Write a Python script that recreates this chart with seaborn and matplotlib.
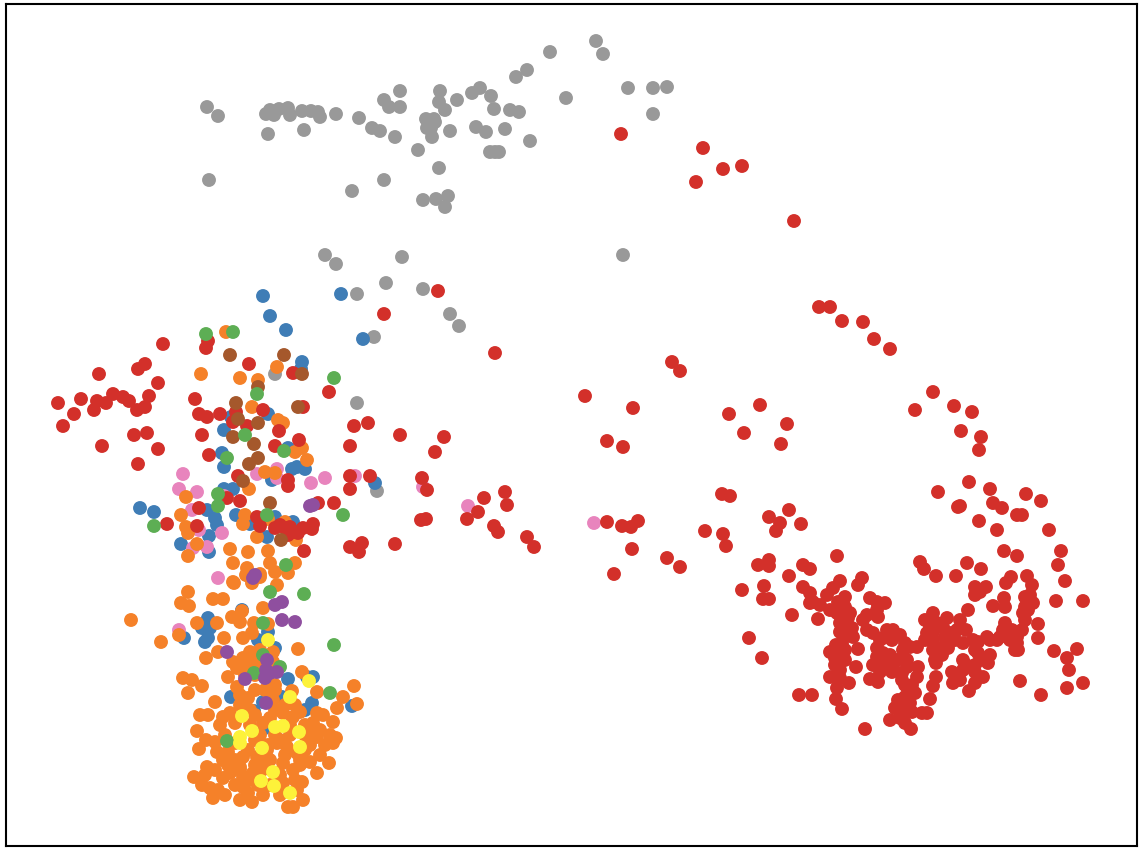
import pandas as pd
import matplotlib
matplotlib.use('Agg')
import matplotlib.pyplot as plt
import seaborn as sns

# puntos (x, y) por grupo
grey = [(207,107),(218,116),(209,180),(266,114),(270,110),(274,115),(279,109),(288,108),(290,115),(302,111),(304,130),(311,111),(318,112),(320,117),(336,114),(268,134),(359,118),(372,128),(380,131),(384,100),(389,107),(400,91),(400,107),(395,137),(418,150),(426,119),(434,119),(427,128),(431,128),(435,122),(440,91),(439,102),(445,110),(457,100),(472,93),(480,88),(491,96),(476,127),(486,132),(450,131),(432,137),(494,109),(510,110),(519,112),(505,129),(530,141),(490,152),(495,152),(499,152),(516,77),(527,70),(550,52),(566,98),(596,41),(603,54),(628,88),(653,88),(667,87),(653,114),(439,168),(384,180),(352,191),(423,200),(436,199),(448,196),(445,207),(623,255),(325,255),(336,264),(402,257),(386,283),(423,289),(450,314),(459,326),(357,294),(374,337),(275,374),(357,403),(377,491)]

blue = [(263,296),(270,316),(286,330),(341,294),(363,339),(302,362),(301,369),(268,414),(231,417),(224,430),(288,448),(222,453),(224,467),(292,469),(297,467),(305,469),(272,480),(233,489),(224,489),(207,510),(140,508),(154,512),(236,515),(215,518),(217,525),(250,524),(275,517),(293,522),(267,537),(209,536),(181,544),(209,552),(375,483),
        (208,618),(202,628),(210,628),(208,638),(205,642),(184,638),(242,610),(268,632),(258,640),(275,648),(288,679),(313,677),(307,677),(231,697),(263,702),(254,711),(282,697),(312,703),(305,710),(352,706),(265,728)]

pink = [(183,474),(179,489),(197,492),(224,496),(192,510),(199,530),(222,533),(207,547),(193,548),(257,474),(277,469),(277,478),(311,483),(325,478),(355,476),(423,487),(468,506),(594,523),(218,578),(179,630)]

orange = [(226,332),(201,374),(277,367),(240,378),(258,380),(252,407),(278,420),(283,423),(302,448),(295,452),(307,460),(265,472),(275,473),(249,489),(186,497),(181,515),(186,527),(188,533),(197,544),(188,556),(245,515),(243,524),(268,519),(285,522),(257,537),(296,540),(230,549),(248,552),(268,551),(270,563),(233,563),(247,568),(295,563),(275,572),(288,573),(260,574),(246,575),(233,582),
          (131,620),(161,642),(179,635),(188,592),(181,603),(189,606),(213,599),(223,599),(234,583),(247,575),(260,577),(252,583),(277,585),(242,611),(232,617),(240,622),(197,623),(217,623),(263,608),(254,623),(268,624),(252,633),(243,638),(224,638),(218,652),(206,658),(298,649),
          (250,652),(260,650),(273,652),(273,662),(253,660),(243,658),(233,662),(237,668),(248,667),(228,677),(257,665),(183,678),(192,680),(202,686),(188,693),(215,702),(237,687),(240,695),(248,698),(302,672),(275,685),(292,691),(317,692),(354,686),(343,697),(357,704),(337,708),
          (273,700),(275,710),(200,715),(208,715),(223,717),(220,725),(230,713),(235,723),(263,723),(283,713),(293,717),(317,713),(323,715),(313,723),(333,722),(197,731),(206,740),(199,749),(336,738),(333,743),(317,737),(310,733),(320,730),
          (217,752),(223,760),(207,767),(194,777),(202,785),(210,788),(218,790),(213,798),(235,743),(248,750),(235,760),(243,757),(257,757),(267,750),(277,743),(287,747),(297,753),(305,750),(320,755),(329,763),(310,762),(317,773),
          (230,773),(223,778),(235,785),(243,777),(253,773),(263,763),(283,763),(293,770),(302,782),(297,790),(303,800),(293,807),(288,807),(248,793),(252,802),(263,795),(243,787),(283,783),(277,773),(240,767),
          (245,710),(255,715),(270,718),(300,712),(305,725),(290,735),(280,740),(260,735),(250,725),(225,735),(215,742),(228,752),(262,770),(270,760),(285,755),(300,765),(270,785),(258,785),(225,795),(240,800),(280,795),(310,745),(325,745),(330,735),(240,770),(255,765),(280,775),(295,780),(300,760),(205,775),(215,770),(228,765),(250,780),(268,745),(255,740),(290,725),(305,735),(275,735),(240,705),(250,710),(255,690),(265,690),(275,690),(245,675),(240,665),(255,675),(285,705),(295,705),(270,685)]

red = [(621,134),(703,148),(696,182),(723,169),(742,166),(794,221),(819,307),(830,307),(842,321),(863,322),(874,339),(890,349),(933,392),(915,410),(954,406),(972,412),(961,431),(981,437),(979,450),(672,362),(680,371),(585,396),(633,408),(607,441),(623,447),(729,414),(760,405),(744,433),(787,424),(781,444),(722,494),(730,496),(705,531),(723,534),(726,546),(622,526),(631,527),(638,521),(632,549),(614,574),(667,558),(680,567),(607,522),
       (438,291),(384,314),(495,353),(444,437),(435,452),(422,478),(400,435),(427,490),(421,520),(426,519),(467,519),(484,498),(478,512),(505,492),(507,505),(494,526),(498,532),(527,537),(534,547),(395,544),
       (163,344),(145,364),(138,369),(99,374),(158,383),(149,396),(81,399),(113,394),(58,403),(97,401),(106,403),(94,410),(123,397),(129,401),(137,410),(145,407),(74,414),(63,426),(134,435),(147,433),(102,446),(158,449),(138,464),
       (208,341),(206,348),(249,364),(195,399),(199,414),(207,417),(220,414),(202,435),(209,455),(236,412),(233,422),(247,426),(263,410),(279,431),(275,446),(299,440),(293,373),(303,407),(329,392),(354,426),(368,423),(350,446),(350,476),(350,489),(370,476),
       (238,476),(288,480),(288,486),(240,501),(227,498),(318,503),(334,503),(167,524),(199,508),(197,526),(257,517),(260,526),(275,528),(285,528),(290,527),(288,535),(298,533),(303,528),(313,524),(312,529),(304,551),(350,547),(362,543),(359,552),(280,525),(293,532),
       (938,492),(969,482),(990,489),(1026,494),(1041,501),(960,506),(958,507),(993,503),(1002,508),(1017,515),(1022,515),(979,521),(997,530),(1049,530),(1004,551),(1017,556),(1061,551),(1058,565),(1065,581),(967,563),(981,569),(920,562),(924,569),(936,576),(956,576),(1056,601),(1083,601),(1011,577),(1006,583),(1027,576),(1032,585),(986,587),(975,587),(975,595),(980,592),(1004,598),(1005,607),(993,606),(1025,597),(1033,603),(1025,607),(1025,620),(1023,613),(1038,624),(1038,638),(1054,651),(1077,649),(1067,658),(1069,670),(1083,683),(1067,688),(1041,695),(1020,681),
       (968,610),(960,620),(957,630),(933,613),(925,620),(947,618),(930,627),(943,627),(937,623),(950,633),(927,633),(933,640),(943,647),(933,650),(942,655),(936,663),(963,643),(973,640),(987,637),(997,640),(978,642),(1005,623),(1003,630),(1017,637),(1017,643),(1018,650),(1010,640),(978,653),(988,663),(963,660),(980,660),(952,672),(963,670),(975,672),(983,677),(953,683),(975,683),(969,691),(936,677),(933,686),(930,699),(927,713),(922,713),
       (907,687),(915,693),(905,697),(910,703),(903,703),(907,712),(895,708),(890,720),(900,718),(905,723),(911,729),(865,729),(917,647),(910,647),(907,660),(918,667),(917,677),(902,673),(907,667),(900,635),(893,630),(905,643),(887,630),(883,638),(873,633),(867,630),(883,653),(877,657),(890,655),(873,665),(883,667),(893,667),(887,662),(870,679),(878,682),(856,667),(858,649),
       (870,598),(877,602),(885,603),(877,610),(867,615),(878,617),(863,620),(862,578),(858,585),(840,581),(833,588),(827,595),(845,597),(838,602),(845,607),(850,613),(837,613),(843,617),(840,623),(847,625),(830,610),(845,633),(853,637),(842,643),(845,650),(830,652),(838,653),(835,665),(840,670),(830,677),(840,678),(849,683),(837,688),(836,699),(842,709),(799,695),(812,695),
       (810,593),(813,602),(810,603),(820,605),(803,587),(818,619),(792,615),(789,576),(803,565),(810,569),(837,556),(769,560),(758,565),(769,566),(764,586),(763,599),(769,599),(742,590),(749,638),(762,658),(769,517),(789,510),(780,523),(776,531),(801,524),
       (848,618),(852,628),(840,632),(836,645),(835,658),(845,660),(880,640),(892,640),(903,650),(897,660),(877,648),(880,672),(892,672),(902,680),(912,685),(905,685),(912,712),(898,700),(925,640),(933,632),(945,637),(935,660),(948,648),(955,640),(966,630),(975,650),(990,640),(1000,637),(1012,630),(1022,630),(1015,650),(1028,610),(1030,595),(968,666),(975,665),(960,680),(990,655)]

brown = [(230,355),(284,355),(302,374),(258,387),(236,403),(298,407),(238,419),(258,423),(233,437),(254,444),(258,458),(249,464),(243,481),(270,503),(281,540)]

green = [(206,334),(233,332),(257,394),(334,378),(245,435),(284,451),(227,458),(218,494),(218,506),(154,526),(343,515),(267,515),(286,565),
         (270,592),(304,594),(334,645),(254,673),(280,667),(263,655),(263,623),(330,693),(227,741)]

purple = [(310,506),(313,505),(255,575),(275,605),(282,602),(282,620),(295,622),(227,652),(245,679),(266,670),(270,673),(277,672),(265,678),(267,660),(266,703),(253,578)]

yellow = [(268,640),(309,681),(290,697),(242,716),(275,727),(283,726),(252,731),(299,732),(240,737),(240,743),(262,748),(300,747),(273,772),(261,781),(274,786),(290,793)]

grupos = {'grey': grey, 'blue': blue, 'pink': pink, 'orange': orange, 'red': red,
          'brown': brown, 'green': green, 'purple': purple, 'yellow': yellow}
colores = {'grey': '#999999', 'blue': '#3f7db6', 'pink': '#e884bd', 'orange': '#f58129',
           'red': '#d3302a', 'brown': '#a5582c', 'green': '#5dae54', 'purple': '#8f4f9f',
           'yellow': '#fdf23a'}

filas = []
for nombre, puntos in grupos.items():
    for x, y in puntos:
        filas.append((x, y, nombre))
df = pd.DataFrame(filas, columns=['x', 'y', 'grupo'])

sns.set_style('white')
fig = plt.figure(figsize=(11.43, 8.53), dpi=100)
ax = fig.add_axes([6/1143, 1 - 847/853, 1131/1143, 842/853])
sns.scatterplot(data=df, x='x', y='y', hue='grupo', palette=colores, s=100, linewidth=0,
                legend=False, ax=ax)
ax.set_xlim(6, 1137)
ax.set_ylim(846, 4)
ax.set_xticks([])
ax.set_yticks([])
ax.set_xlabel('')
ax.set_ylabel('')
for s in ax.spines.values():
    s.set_color('black')
    s.set_linewidth(1.5)
fig.savefig('out.png', dpi=100)
